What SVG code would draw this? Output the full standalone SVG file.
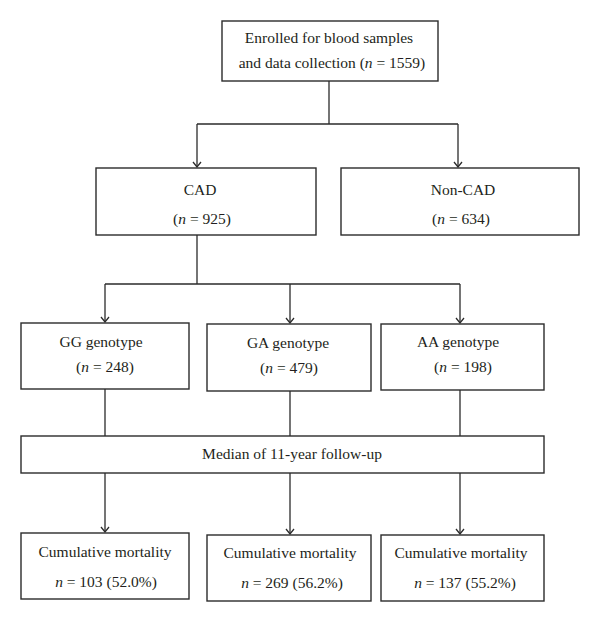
<svg xmlns="http://www.w3.org/2000/svg" width="600" height="622" viewBox="0 0 600 622">
<style>
.box{fill:#fff;stroke:#2b2b2b;stroke-width:1.4}
.t{font-family:"Liberation Serif","Times New Roman",serif;font-size:15.5px;fill:#231f20;text-anchor:middle}
.i{font-style:italic}
.c{fill:none;stroke:#2b2b2b;stroke-width:1.3}
</style>
<defs>
<marker id="arr" markerUnits="userSpaceOnUse" markerWidth="12" markerHeight="12" viewBox="-6 -6 12 12" refX="0" refY="0" orient="auto">
<path d="M-5,-4 L0,0 L-5,4" fill="none" stroke="#2b2b2b" stroke-width="1.3"/>
</marker>
</defs>
<rect width="600" height="622" fill="#fff"/>
<g id="connectors">
<path class="c" d="M329,81 V124 M197,124 H458"/>
<path class="c" d="M197,124 V167" marker-end="url(#arr)"/>
<path class="c" d="M458,124 V167" marker-end="url(#arr)"/>
<path class="c" d="M197,235 V284 M105,284 H460"/>
<path class="c" d="M105,284 V322" marker-end="url(#arr)"/>
<path class="c" d="M290,284 V323" marker-end="url(#arr)"/>
<path class="c" d="M460,284 V323" marker-end="url(#arr)"/>
<path class="c" d="M105,389 V436 M290,391 V436 M460,390 V436"/>
<path class="c" d="M105,473 V532" marker-end="url(#arr)"/>
<path class="c" d="M290,473 V534" marker-end="url(#arr)"/>
<path class="c" d="M460,473 V534" marker-end="url(#arr)"/>
</g>
<g id="enrolled">
<rect class="box" x="222" y="21" width="216" height="60"/>
<text class="t" x="329" y="43">Enrolled for blood samples</text>
<text class="t" x="332" y="68">and data collection (<tspan class="i">n</tspan> = 1559)</text>
</g>
<g id="cad">
<rect class="box" x="96" y="168" width="220" height="67"/>
<text class="t" x="200" y="195">CAD</text>
<text class="t" x="202" y="224">(<tspan class="i">n</tspan> = 925)</text>
</g>
<g id="noncad">
<rect class="box" x="341" y="168" width="238" height="67"/>
<text class="t" x="463" y="195">Non-CAD</text>
<text class="t" x="461" y="224">(<tspan class="i">n</tspan> = 634)</text>
</g>
<g id="gg">
<rect class="box" x="21" y="323" width="168" height="66"/>
<text class="t" x="101" y="347">GG genotype</text>
<text class="t" x="105" y="372">(<tspan class="i">n</tspan> = 248)</text>
</g>
<g id="ga">
<rect class="box" x="207" y="324" width="164" height="67"/>
<text class="t" x="288" y="348">GA genotype</text>
<text class="t" x="289" y="373">(<tspan class="i">n</tspan> = 479)</text>
</g>
<g id="aa">
<rect class="box" x="381" y="324" width="163" height="66"/>
<text class="t" x="458" y="347">AA genotype</text>
<text class="t" x="463" y="372">(<tspan class="i">n</tspan> = 198)</text>
</g>
<g id="median">
<rect class="box" x="21" y="436" width="523" height="37"/>
<text class="t" x="292" y="459">Median of 11-year follow-up</text>
</g>
<g id="mort-gg">
<rect class="box" x="21" y="533" width="168" height="66"/>
<text class="t" x="105" y="557">Cumulative mortality</text>
<text class="t" x="106" y="587"><tspan class="i">n</tspan> = 103 (52.0%)</text>
</g>
<g id="mort-ga">
<rect class="box" x="207" y="535" width="164" height="66"/>
<text class="t" x="290" y="558">Cumulative mortality</text>
<text class="t" x="292" y="588"><tspan class="i">n</tspan> = 269 (56.2%)</text>
</g>
<g id="mort-aa">
<rect class="box" x="381" y="535" width="163" height="66"/>
<text class="t" x="461" y="558">Cumulative mortality</text>
<text class="t" x="465" y="588"><tspan class="i">n</tspan> = 137 (55.2%)</text>
</g>
</svg>
